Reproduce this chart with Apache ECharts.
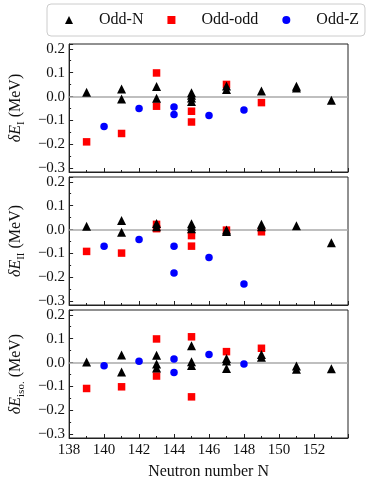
<!DOCTYPE html>
<html>
<head>
<meta charset="utf-8">
<script src="https://cdn.jsdelivr.net/npm/echarts@6/dist/echarts.min.js"></script>
<style>html,body{margin:0;padding:0;background:#fff;}#c{width:374px;height:483px;}</style>
</head>
<body>
<div id="c"></div>
<script>
// ---- data: [neutron number N, deviation (MeV)] ----
const oddN_I = [[139,0.018],[141,0.032],[141,-0.010],[143,0.042],[143,-0.007],[145,0.016],[145,0.006],[145,-0.006],[145,-0.020],[147,0.044],[147,0.030],[149,0.024],[151,0.043],[151,0.036],[153,-0.015]];
const oddodd_I = [[139,-0.189],[141,-0.154],[143,0.099],[143,-0.040],[145,-0.061],[145,-0.106],[147,0.051],[149,-0.025]];
const oddZ_I = [[140,-0.125],[142,-0.050],[144,-0.043],[144,-0.075],[146,-0.079],[148,-0.056]];

const oddN_II = [[139,0.014],[141,0.038],[141,-0.011],[143,0.026],[143,0.012],[145,0.025],[145,0.014],[145,0.004],[147,-0.002],[147,-0.008],[149,0.022],[149,0.012],[151,0.016],[153,-0.055]];
const oddodd_II = [[139,-0.091],[141,-0.098],[143,0.022],[143,0.004],[145,-0.025],[145,-0.069],[147,-0.002],[149,-0.009]];
const oddZ_II = [[140,-0.069],[142,-0.041],[144,-0.069],[144,-0.181],[146,-0.116],[148,-0.227]];

const oddN_iso = [[139,0.003],[141,0.032],[141,-0.039],[143,0.031],[143,-0.006],[143,-0.022],[145,0.071],[145,0.004],[145,-0.012],[147,0.017],[147,0.007],[147,-0.024],[149,0.034],[149,0.022],[151,-0.014],[151,-0.028],[153,-0.026]];
const oddodd_iso = [[139,-0.108],[141,-0.101],[143,0.099],[143,-0.056],[145,0.108],[145,-0.143],[147,0.046],[149,0.060]];
const oddZ_iso = [[140,-0.013],[142,0.006],[144,0.015],[144,-0.041],[146,0.034],[148,-0.006]];

const seriesNames = ['Odd-N','Odd-odd','Odd-Z'];
const panelSubs = ['I','II','iso.'];
const xName = 'Neutron number N';

const FONT = 'Liberation Serif';
const chart = echarts.init(document.getElementById('c'), null, {renderer:'canvas'});

const tops = [44, 177, 310];
const grids = tops.map(t => ({left:63, right:26, top:t, height:128, show:true, borderColor:'#222', borderWidth:1, backgroundColor:'transparent'}));

const xAxes = [0,1,2].map(i => ({
  type:'value', gridIndex:i, min:138, max:153.95,
  splitNumber:8,
  axisLine:{show:true, onZero:false, lineStyle:{color:'#222', width:1}},
  axisTick:{show:true, inside:true, length:4, lineStyle:{color:'#222'}},
  minorTick:{show:true, splitNumber:2, length:2, lineStyle:{color:'#222'}},
  splitLine:{show:false},
  axisLabel:{show:i===2, fontFamily:FONT, fontSize:15, color:'#111', margin:5, showMaxLabel:false},
  name: i===2 ? xName : '',
  nameLocation:'middle', nameGap:26,
  nameTextStyle:{fontFamily:FONT, fontSize:16, color:'#111'}
}));

const yAxes = [0,1,2].map(i => ({
  type:'value', gridIndex:i, min:-0.315, max:0.22, splitNumber:5,
  axisLine:{show:true, onZero:false, lineStyle:{color:'#222', width:1}},
  axisTick:{show:true, inside:true, length:4, lineStyle:{color:'#222'}},
  minorTick:{show:true, splitNumber:2, length:2, lineStyle:{color:'#222'}},
  splitLine:{show:false},
  axisLabel:{fontFamily:FONT, fontSize:15, color:'#111', margin:4, showMinLabel:false, showMaxLabel:false,
    formatter: v => {
      const k = Math.round(v*10);
      if (Math.abs(v*10 - k) > 1e-6) return '';
      return (k<0 ? '\u2212' : '') + Math.abs(k/10).toFixed(1);
    }},
  name: '{i|\u03B4E}{s|' + panelSubs[i] + '}{t| (MeV)}',
  nameLocation:'middle', nameRotate:90, nameGap:41,
  nameTextStyle:{
    fontFamily:FONT, fontSize:16, color:'#111',
    rich:{
      i:{fontFamily:FONT, fontSize:16, fontStyle:'italic', color:'#111', lineHeight:22, verticalAlign:'middle'},
      s:{fontFamily:FONT, fontSize:11, color:'#111', lineHeight:10, verticalAlign:'bottom'},
      t:{fontFamily:FONT, fontSize:16, color:'#111', lineHeight:22, verticalAlign:'middle'}
    }
  }
}));

const panelData = [
  [oddN_I, oddodd_I, oddZ_I],
  [oddN_II, oddodd_II, oddZ_II],
  [oddN_iso, oddodd_iso, oddZ_iso]
];
const styles = [
  {symbol:'triangle', size:9, color:'#000', z:5},
  {symbol:'rect', size:7.5, color:'#ff0000', z:3},
  {symbol:'circle', size:7.5, color:'#0000ff', z:4}
];

const series = [];
panelData.forEach((pd, i) => {
  pd.forEach((d, j) => {
    const s = {
      name: seriesNames[j], type:'scatter', xAxisIndex:i, yAxisIndex:i,
      data: d, symbol: styles[j].symbol, symbolSize: styles[j].size,
      itemStyle:{color: styles[j].color, opacity:1}, z: styles[j].z,
      emphasis:{disabled:true}, animation:false
    };
    if (j === 1) {
      s.markLine = {silent:true, symbol:['none','none'], label:{show:false},
        lineStyle:{color:'#aaaaaa', width:1.5, type:'solid'}, z:1,
        data:[{yAxis:0}], animation:false};
    }
    series.push(s);
  });
});

chart.setOption({
  animation:false,
  backgroundColor:'#fff',
  legend:{
    data: seriesNames.map(n => ({name:n})),
    left:47, top:4, orient:'horizontal',
    itemWidth:8, itemHeight:8, itemGap:24,
    padding:[8,6,8,18],
    borderColor:'#cccccc', borderWidth:1, borderRadius:4,
    textStyle:{fontFamily:FONT, fontSize:16, color:'#111', padding:[0,0,0,21]},
    selectedMode:false
  },
  grid: grids,
  xAxis: xAxes,
  yAxis: yAxes,
  series: series
});
</script>
</body>
</html>
